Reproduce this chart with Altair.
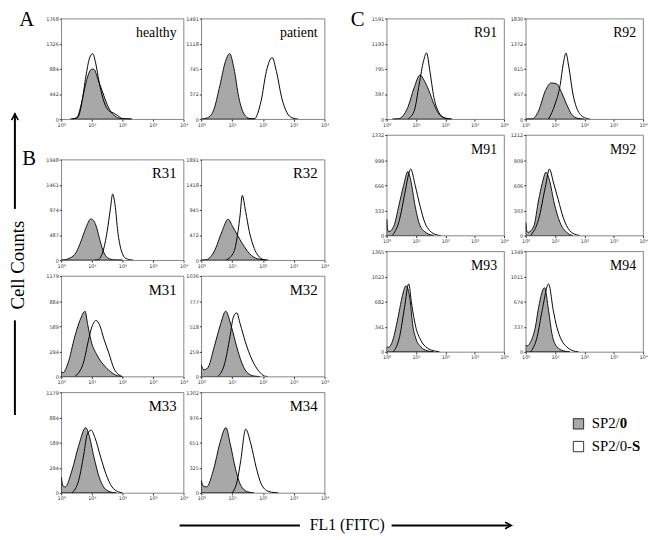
import altair as alt
import pandas as pd

# ---------------- data (x in decades of FL1: 0 -> 10^0 ... 4 -> 10^4) ----------------
panel_names = ["healthy", "patient", "R31", "R32", "M31", "M32", "M33", "M34",
               "R91", "R92", "M91", "M92", "M93", "M94"]
panel_ymax = [1768, 1491, 1948, 1891, 1179, 1036, 1179, 1302,
              1591, 1830, 1332, 1212, 1365, 1349]
x_tick_labels = ["10\u2070", "10\u00b9", "10\u00b2", "10\u00b3", "10\u2074"]
series_names = ["SP2/0", "SP2/0-S"]

healthy_f_x = [0.30, 0.50, 0.65, 0.80, 0.92, 1.00, 1.08, 1.20, 1.35, 1.50, 1.65, 1.80, 2.00, 2.30]
healthy_f_y = [0, 20, 250, 620, 830, 880, 870, 700, 480, 260, 110, 40, 5, 0]
healthy_o_x = [0.35, 0.55, 0.70, 0.82, 0.93, 1.03, 1.12, 1.25, 1.40, 1.55, 1.70, 1.85, 2.00, 2.30]
healthy_o_y = [0, 40, 380, 800, 1080, 1150, 1000, 620, 300, 150, 110, 60, 10, 0]

patient_f_x = [0.0, 0.2, 0.39, 0.61, 0.78, 0.92, 1.06, 1.22, 1.39, 1.56, 1.75]
patient_f_y = [0, 20, 121, 510, 850, 971, 753, 316, 73, 10, 0]
patient_o_x = [1.5, 1.72, 1.94, 2.11, 2.30, 2.44, 2.61, 2.78, 2.94, 3.15]
patient_o_y = [0, 5, 267, 705, 913, 705, 316, 97, 20, 0]

r31_f_x = [0.0, 0.09, 0.42, 0.64, 0.80, 0.97, 1.13, 1.25, 1.36, 1.52, 1.74, 2.0]
r31_f_y = [0, 5, 97, 357, 617, 799, 682, 422, 195, 45, 5, 0]
r31_o_x = [1.1, 1.19, 1.36, 1.50, 1.61, 1.68, 1.76, 1.85, 1.96, 2.12, 2.35]
r31_o_y = [0, 5, 162, 552, 1006, 1279, 1071, 552, 195, 32, 0]

r32_f_x = [0.0, 0.17, 0.44, 0.67, 0.87, 1.02, 1.17, 1.33, 1.56, 1.83, 2.17]
r32_f_y = [0, 10, 189, 536, 769, 630, 473, 315, 126, 25, 0]
r32_o_x = [0.8, 1.06, 1.19, 1.26, 1.33, 1.44, 1.56, 1.72, 1.94, 2.10]
r32_o_y = [0, 158, 536, 851, 1216, 914, 536, 220, 32, 0]

m31_f_x = [0.0, 0.06, 0.22, 0.44, 0.61, 0.78, 0.86, 0.97, 1.17, 1.39, 1.61, 1.83, 2.0]
m31_f_y = [60, 45, 155, 464, 657, 765, 619, 425, 251, 135, 58, 10, 0]
m31_o_x = [0.44, 0.72, 0.89, 1.0, 1.14, 1.26, 1.39, 1.56, 1.72, 1.89, 2.0]
m31_o_y = [0, 155, 425, 580, 657, 599, 445, 271, 97, 19, 0]

m32_f_x = [0.0, 0.08, 0.2, 0.42, 0.63, 0.79, 0.98, 1.15, 1.32, 1.49, 1.71, 1.9]
m32_f_y = [119, 70, 85, 306, 543, 673, 510, 306, 136, 41, 5, 0]
m32_o_x = [0.54, 0.76, 0.93, 1.04, 1.15, 1.26, 1.43, 1.65, 1.88, 2.05, 2.15]
m32_o_y = [0, 136, 408, 611, 656, 544, 357, 170, 51, 5, 0]

m33_f_x = [0.0, 0.06, 0.13, 0.35, 0.57, 0.80, 0.90, 1.07, 1.24, 1.40, 1.62, 1.8]
m33_f_y = [185, 80, 70, 263, 553, 765, 688, 418, 185, 62, 10, 0]
m33_o_x = [0.35, 0.57, 0.74, 0.85, 0.98, 1.10, 1.29, 1.46, 1.66, 1.85, 2.0]
m33_o_y = [0, 147, 456, 688, 735, 650, 418, 224, 70, 15, 0]

m34_f_x = [0.0, 0.06, 0.17, 0.39, 0.61, 0.80, 0.94, 1.11, 1.28, 1.50, 1.70]
m34_f_y = [162, 90, 77, 290, 653, 845, 632, 312, 98, 15, 0]
m34_o_x = [1.0, 1.17, 1.28, 1.44, 1.61, 1.78, 1.94, 2.17, 2.39, 2.5]
m34_o_y = [0, 162, 418, 824, 632, 333, 120, 21, 3, 0]

r91_f_x = [0.2, 0.39, 0.72, 0.94, 1.14, 1.28, 1.44, 1.61, 1.78, 2.0, 2.22]
r91_f_y = [0, 5, 185, 503, 700, 610, 450, 238, 80, 15, 0]
r91_o_x = [0.72, 0.94, 1.11, 1.26, 1.36, 1.47, 1.61, 1.78, 2.0, 2.2]
r91_o_y = [0, 132, 556, 927, 1049, 768, 344, 106, 15, 0]

r92_f_x = [0.0, 0.22, 0.44, 0.67, 0.87, 1.06, 1.22, 1.39, 1.56, 1.78, 2.0]
r92_f_y = [0, 5, 152, 518, 659, 640, 488, 274, 91, 15, 0]
r92_o_x = [0.78, 1.0, 1.17, 1.28, 1.37, 1.47, 1.61, 1.78, 2.0, 2.2]
r92_o_y = [0, 274, 610, 1006, 1201, 945, 457, 152, 30, 0]

m91_f_x = [0.0, 0.04, 0.08, 0.25, 0.41, 0.58, 0.72, 0.82, 0.97, 1.14, 1.36, 1.6]
m91_f_y = [215, 70, 52, 129, 387, 666, 847, 730, 387, 129, 34, 0]
m91_o_x = [0.19, 0.41, 0.64, 0.75, 0.82, 0.97, 1.14, 1.30, 1.47, 1.69, 1.85]
m91_o_y = [0, 172, 602, 816, 881, 666, 387, 172, 64, 10, 0]

m92_f_x = [0.0, 0.04, 0.08, 0.28, 0.44, 0.56, 0.69, 0.81, 0.97, 1.17, 1.39, 1.6]
m92_f_y = [156, 50, 39, 117, 430, 625, 762, 665, 391, 156, 39, 0]
m92_o_x = [0.17, 0.44, 0.67, 0.81, 0.94, 1.11, 1.28, 1.50, 1.72, 1.85]
m92_o_y = [0, 196, 586, 801, 645, 430, 215, 59, 10, 0]

m93_f_x = [0.0, 0.05, 0.17, 0.39, 0.50, 0.66, 0.80, 0.88, 0.99, 1.16, 1.38, 1.6]
m93_f_y = [71, 60, 116, 472, 696, 896, 696, 388, 187, 71, 15, 0]
m93_o_x = [0.22, 0.44, 0.61, 0.75, 0.85, 0.99, 1.16, 1.38, 1.66, 1.8]
m93_o_y = [0, 205, 606, 923, 650, 339, 160, 53, 10, 0]

m94_f_x = [0.0, 0.05, 0.17, 0.33, 0.44, 0.64, 0.78, 0.89, 1.06, 1.28, 1.5]
m94_f_y = [92, 80, 136, 334, 598, 860, 554, 250, 70, 15, 0]
m94_o_x = [0.17, 0.39, 0.56, 0.78, 0.94, 1.06, 1.22, 1.39, 1.61, 1.8]
m94_o_y = [0, 202, 554, 910, 554, 334, 158, 70, 15, 0]

curves = {
    "healthy": (healthy_f_x, healthy_f_y, healthy_o_x, healthy_o_y),
    "patient": (patient_f_x, patient_f_y, patient_o_x, patient_o_y),
    "R31": (r31_f_x, r31_f_y, r31_o_x, r31_o_y),
    "R32": (r32_f_x, r32_f_y, r32_o_x, r32_o_y),
    "M31": (m31_f_x, m31_f_y, m31_o_x, m31_o_y),
    "M32": (m32_f_x, m32_f_y, m32_o_x, m32_o_y),
    "M33": (m33_f_x, m33_f_y, m33_o_x, m33_o_y),
    "M34": (m34_f_x, m34_f_y, m34_o_x, m34_o_y),
    "R91": (r91_f_x, r91_f_y, r91_o_x, r91_o_y),
    "R92": (r92_f_x, r92_f_y, r92_o_x, r92_o_y),
    "M91": (m91_f_x, m91_f_y, m91_o_x, m91_o_y),
    "M92": (m92_f_x, m92_f_y, m92_o_x, m92_o_y),
    "M93": (m93_f_x, m93_f_y, m93_o_x, m93_o_y),
    "M94": (m94_f_x, m94_f_y, m94_o_x, m94_o_y),
}
ymax_of = dict(zip(panel_names, panel_ymax))

FILL = "#a8a8a8"
SERIF = "Liberation Serif"
LABEL_EXPR_X = "['" + "','".join(x_tick_labels) + "'][datum.value]"
NOBOX = alt.ViewBackground(stroke="transparent")


def one(text):
    return pd.DataFrame({"t": [text]})


def spacer_rule(top):
    # invisible rule that fixes how far a panel's bounds reach above its plot
    return alt.Chart(one("h")).mark_rule(strokeOpacity=0, strokeWidth=1).encode(
        x=alt.value(0), y=alt.value(-top), y2=alt.value(0))


def panel(name, w, h, fs, top=3):
    fx, fy, ox, oy = curves[name]
    ymax = ymax_of[name]
    xs = alt.Scale(domain=[0, 4], nice=False, zero=False)
    ys = alt.Scale(domain=[0, ymax], nice=False)
    xaxis = alt.Axis(values=[0, 1, 2, 3, 4], labelExpr=LABEL_EXPR_X, title=None)
    yaxis = alt.Axis(values=[0, ymax / 4, ymax / 2, 3 * ymax / 4, ymax],
                     labelExpr="'' + floor(datum.value)", title=None)
    area = alt.Chart(pd.DataFrame({"x": fx, "y": fy, "s": series_names[0]})).mark_area(
        interpolate="monotone", fill=FILL, stroke="#111", strokeWidth=1, clip=True
    ).encode(x=alt.X("x:Q", scale=xs, axis=xaxis), y=alt.Y("y:Q", scale=ys, axis=yaxis))
    line = alt.Chart(pd.DataFrame({"x": ox, "y": oy, "s": series_names[1]})).mark_line(
        interpolate="monotone", color="#000", strokeWidth=1, clip=True
    ).encode(x=alt.X("x:Q", scale=xs, axis=xaxis), y=alt.Y("y:Q", scale=ys, axis=yaxis))
    label = alt.Chart(one(name)).mark_text(
        font=SERIF, fontSize=fs, align="right", baseline="alphabetic", color="#000"
    ).encode(x=alt.value(w - 7), y=alt.value(19), text="t:N")
    return alt.layer(area, line, label, spacer_rule(top)).properties(width=w, height=h)


def txt(text, x, y, size, angle=0, align="center", baseline="alphabetic", weight="normal"):
    return alt.Chart(one(text)).mark_text(
        font=SERIF, fontSize=size, align=align, baseline=baseline, angle=angle,
        fontWeight=weight, color="#000"
    ).encode(x=alt.value(x), y=alt.value(y), text="t:N")


def vrule(x, y1, y2, w=2):
    return alt.Chart(one("r")).mark_rule(color="#000", strokeWidth=w).encode(
        x=alt.value(x), y=alt.value(y1), y2=alt.value(y2))


def hrule(x1, x2, y, w=2):
    return alt.Chart(one("r")).mark_rule(color="#000", strokeWidth=w).encode(
        x=alt.value(x1), x2=alt.value(x2), y=alt.value(y))


def head(x, y, path):
    return alt.Chart(one("h")).mark_point(
        shape=path, size=70, filled=False, stroke="#000", strokeWidth=1.6, opacity=1
    ).encode(x=alt.value(x), y=alt.value(y))


def swatch(x, y, fill):
    return alt.Chart(one("s")).mark_point(
        shape="square", size=110, filled=True, fill=fill, stroke="#000", strokeWidth=0.8, opacity=1
    ).encode(x=alt.value(x), y=alt.value(y))


# ---- left annotation strip: A, B, Cell Counts arrow ----
annot_col = alt.layer(
    txt("A", 22, 8, 21),
    txt("B", 24.5, 148, 21),
    txt("Cell  Counts", 13, 250, 19, angle=270, baseline="middle"),
    vrule(10, 96, 193),
    head(10, 100, "M-0.8,0.7L0,-0.8L0.8,0.7"),
    vrule(10, 306, 402),
).properties(width=39, height=410, view=NOBOX)

# ---- "C" strip between the columns ----
c_col = alt.layer(txt("C", 27.5, 8, 21)).properties(width=39, height=30, view=NOBOX)

# ---- legend under panel group C ----
legend = alt.layer(
    swatch(194.5, 60, FILL),
    swatch(194.5, 83, "#ffffff"),
    txt("SP2/", 208, 64.5, 15, align="left"),
    txt("0", 236.4, 64.5, 15, align="left", weight="bold"),
    txt("SP2/0-", 208, 87.5, 15, align="left"),
    txt("S", 248.8, 87.5, 15, align="left", weight="bold"),
).properties(width=100, height=100, view=NOBOX)

# ---- x-axis caption ----
fl1 = alt.layer(
    txt("FL1 (FITC)", 347, 22.5, 16, baseline="middle"),
    hrule(177, 299, 23),
    hrule(392, 512, 23),
    head(510, 23, "M-0.7,-0.8L0.8,0L-0.7,0.8"),
).properties(width=560, height=28, view=NOBOX)

H = 102
LW1, LW2, RW = 124, 125, 119

rowA = alt.hconcat(panel("healthy", LW1, H, 14, 6), panel("patient", LW2, H, 14, 6),
                   spacing=18, bounds="flush")
rowB1 = alt.hconcat(panel("R31", LW1, H, 15), panel("R32", LW2, H, 15), spacing=18, bounds="flush")
rowB2 = alt.hconcat(panel("M31", LW1, H, 15), panel("M32", LW2, H, 15), spacing=18, bounds="flush")
rowB3 = alt.hconcat(panel("M33", LW1, H, 15), panel("M34", LW2, H, 15), spacing=18, bounds="flush")
rowsB = alt.vconcat(rowB1, rowB2, rowB3, spacing=3)
left = alt.vconcat(rowA, rowsB, spacing=28)

rowC1 = alt.hconcat(panel("R91", RW, H, 14, 6), panel("R92", RW, H, 14, 6), spacing=22, bounds="flush")
rowC2 = alt.hconcat(panel("M91", RW, H, 14), panel("M92", RW, H, 14), spacing=22, bounds="flush")
rowC3 = alt.hconcat(panel("M93", RW, H, 14), panel("M94", RW, H, 14), spacing=22, bounds="flush")
right = alt.vconcat(rowC1, rowC2, rowC3, legend, spacing=3)

top_row = alt.hconcat(annot_col, left, c_col, right, spacing=0)

chart = alt.vconcat(top_row, fl1, spacing=0).properties(
    padding={"top": -3, "left": -4, "right": 0, "bottom": 0}
).configure_axis(
    labelFontSize=5, labelColor="#333", labelFont="DejaVu Sans", tickSize=2, tickColor="#333",
    labelPadding=1, grid=False, domain=False, labelFlush=False, labelOverlap=False
).configure_axisX(
    minExtent=8, maxExtent=8
).configure_axisY(
    minExtent=15, maxExtent=15
).configure_view(
    stroke="#666", strokeWidth=0.8
)

chart.save("out.html", embed_options={"renderer": "svg", "actions": False})
